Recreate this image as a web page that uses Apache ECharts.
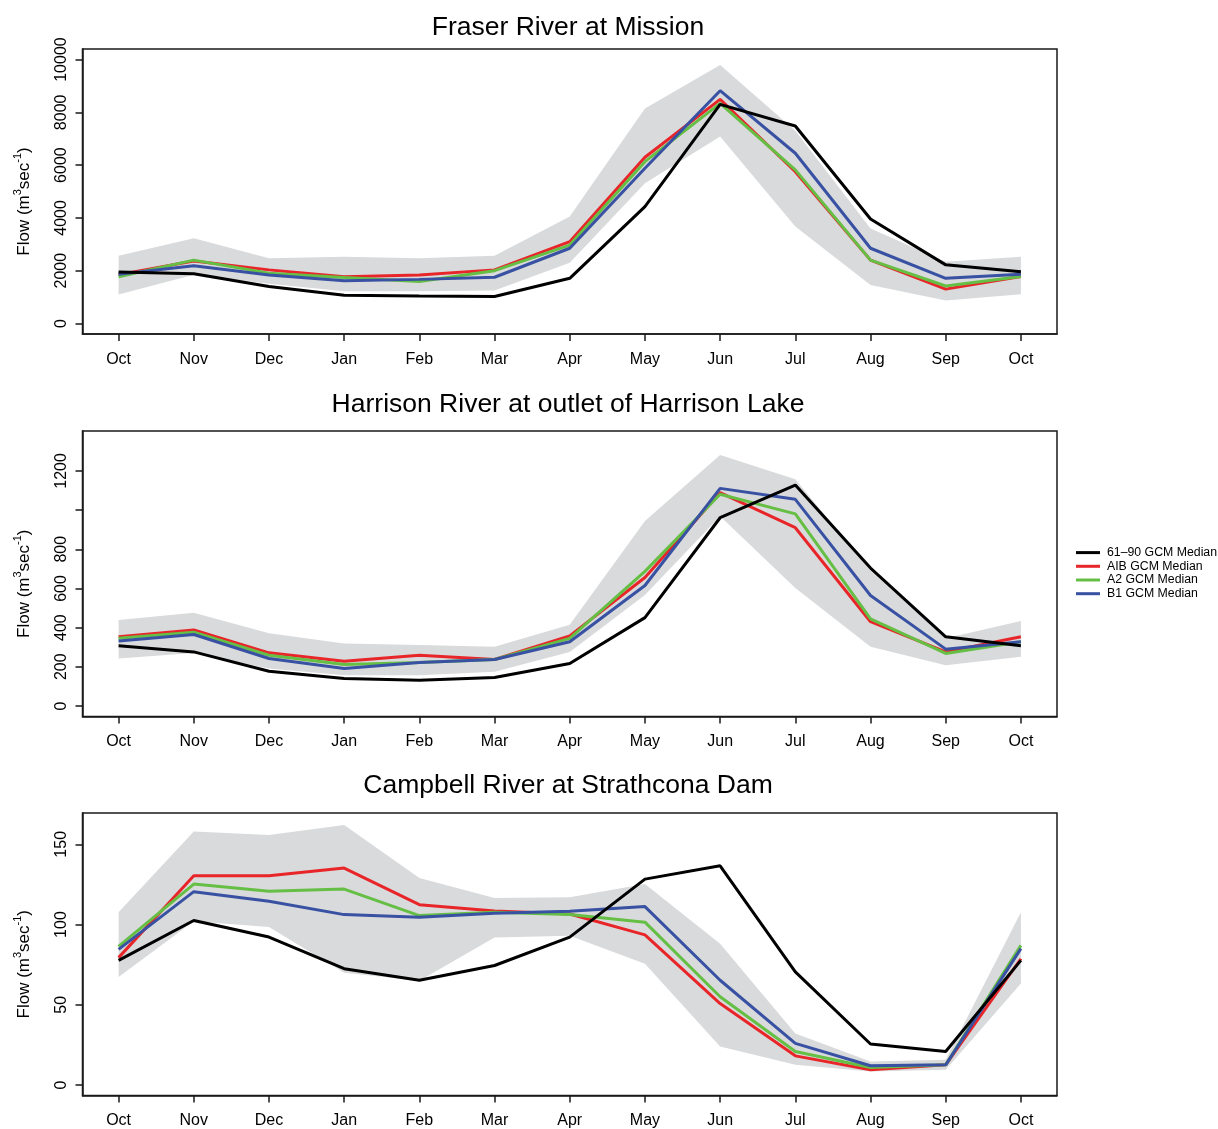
<!DOCTYPE html>
<html>
<head>
<meta charset="utf-8">
<script src="https://cdn.jsdelivr.net/npm/echarts@6/dist/echarts.min.js"></script>
<style>
html,body{margin:0;padding:0;background:#fff;}
#chart{width:1218px;height:1129px;}
</style>
</head>
<body>
<div id="chart"></div>
<script>
// ---- Data ----
const months = ['Oct','Nov','Dec','Jan','Feb','Mar','Apr','May','Jun','Jul','Aug','Sep','Oct'];
const seriesNames = ['61–90 GCM Median','AIB GCM Median','A2 GCM Median','B1 GCM Median'];

// Fraser River at Mission
const fraserBase  = [1950, 1880, 1400, 1070, 1040, 1020, 1710, 4430, 8300, 7480, 3960, 2220, 1960];
const fraserA1B   = [1850, 2370, 2030, 1770, 1840, 2030, 3100, 6300, 8490, 5750, 2400, 1300, 1780];
const fraserA2    = [1770, 2400, 1900, 1740, 1590, 2000, 2970, 6130, 8340, 5820, 2400, 1420, 1780];
const fraserB1    = [1860, 2190, 1840, 1620, 1670, 1750, 2850, 5880, 8820, 6450, 2850, 1710, 1860];
const fraserUpper = [2570, 3230, 2470, 2530, 2470, 2570, 4050, 8150, 9790, 7300, 3600, 2340, 2530];
const fraserLower = [1100, 1850, 1500, 1220, 1220, 1250, 2300, 5310, 7080, 3670, 1460,  870, 1110];

// Harrison River at outlet of Harrison Lake
const harrisonBase  = [307, 276, 177, 140, 131, 145, 217, 451, 961, 1128, 704, 353, 307];
const harrisonA1B   = [353, 388, 271, 228, 259, 237, 358, 656, 1089, 910, 430, 276, 353];
const harrisonA2    = [345, 376, 259, 211, 222, 237, 345, 687, 1081, 981, 444, 268, 328];
const harrisonB1    = [331, 365, 242, 191, 222, 237, 328, 615, 1111, 1055, 564, 290, 328];
const harrisonUpper = [439, 476, 371, 319, 311, 302, 415, 944, 1282, 1158, 690, 345, 434];
const harrisonLower = [242, 270, 191, 157, 157, 174, 276, 567,  969,  602, 302, 208, 251];

// Campbell River at Strathcona Dam
const campbellBase  = [77.7, 102.5, 92.2, 72.5, 65.3, 74.5, 92.2, 128.3, 136.6, 70.5, 25.6, 20.9, 77.7];
const campbellA1B   = [79.4, 130.4, 130.4, 135.2, 112.4, 108.5, 106.6, 93.6, 50.8, 18.2, 9.5, 12.6, 78.7];
const campbellA2    = [86.4, 125.2, 120.7, 122.1, 105.6, 107.7, 106.2, 101.5, 55.0, 20.9, 11.0, 12.6, 87.0];
const campbellB1    = [84.5, 120.5, 114.5, 106.2, 104.6, 107.0, 108.3, 111.2, 65.3, 26.0, 12.0, 12.6, 85.0];
const campbellUpper = [107.7, 157.9, 155.8, 162.0, 129.0, 116.5, 117.0, 125.2, 88.0, 32.2, 14.7, 15.7, 107.7];
const campbellLower = [67.4, 102.0, 98.4, 70.0, 65.0, 92.0, 93.0, 75.6, 24.0, 12.6, 8.5, 9.5, 63.2];

// Axis ticks
const fraserTicks = [0, 2000, 4000, 6000, 8000, 10000];
const fraserLabels = [0, 2000, 4000, 6000, 8000, 10000];
const harrisonTicks = [0, 200, 400, 600, 800, 1000, 1200];
const harrisonLabels = [0, 200, 400, 600, 800, 1200];
const campbellTicks = [0, 50, 100, 150];
const campbellLabels = [0, 50, 100, 150];
const monthTicks = [0,1,2,3,4,5,6,7,8,9,10,11,12];

const titles = ['Fraser River at Mission','Harrison River at outlet of Harrison Lake','Campbell River at Strathcona Dam'];

// ---- Build ----
const FONT = '"Liberation Sans", Arial, Helvetica, sans-serif';
const colors = ['#000000', '#e8262a', '#66bf45', '#3851a3'];
const panels = [
  {top: 49, height: 285, titleTop: 14, ymin: -400, ymax: 10400, ticks: fraserTicks, labels: fraserLabels,
   lines: [fraserBase, fraserA1B, fraserA2, fraserB1], upper: fraserUpper, lower: fraserLower},
  {top: 431, height: 285.5, titleTop: 391.5, ymin: -54, ymax: 1404, ticks: harrisonTicks, labels: harrisonLabels,
   lines: [harrisonBase, harrisonA1B, harrisonA2, harrisonB1], upper: harrisonUpper, lower: harrisonLower},
  {top: 813, height: 284, titleTop: 772.5, ymin: -6.5, ymax: 169.5, ticks: campbellTicks, labels: campbellLabels,
   lines: [campbellBase, campbellA1B, campbellA2, campbellB1], upper: campbellUpper, lower: campbellLower}
];

const gridLeft = 82.5, gridWidth = 974.5;
const grid = [], xAxis = [], yAxis = [], series = [], title = [];
const axisLineStyle = {color: '#1a1a1a', width: 1.5};

panels.forEach((p, k) => {
  grid.push({left: gridLeft, top: p.top, width: gridWidth, height: p.height,
    show: true, borderColor: '#1a1a1a', borderWidth: 1.5, backgroundColor: 'transparent'});
  title.push({text: titles[k], left: 568, top: p.titleTop, textAlign: 'center', padding: 0,
    textStyle: {fontFamily: FONT, fontSize: 26.5, fontWeight: 'normal', color: '#000'}});
  xAxis.push({type: 'value', gridIndex: k, min: -0.48, max: 12.48, position: 'bottom',
    axisLine: {show: true, onZero: false, lineStyle: axisLineStyle},
    axisTick: {show: true, length: 7, inside: false, customValues: monthTicks, lineStyle: axisLineStyle},
    axisLabel: {customValues: monthTicks, margin: 17.5, fontFamily: FONT, fontSize: 16, color: '#000',
      formatter: v => months[Math.round(v)]},
    splitLine: {show: false}});
  yAxis.push({type: 'value', gridIndex: k, min: p.ymin, max: p.ymax, position: 'left',
    axisLine: {show: true, onZero: false, lineStyle: axisLineStyle},
    axisTick: {show: true, length: 7, inside: false, customValues: p.ticks, lineStyle: axisLineStyle},
    axisLabel: {customValues: p.labels, rotate: 90, margin: 13, fontFamily: FONT, fontSize: 16, color: '#000',
      formatter: v => String(v)},
    splitLine: {show: false},
    name: '{n|Flow (m}{s|3}{n|sec}{s|-1}{n|)}',
    nameLocation: 'middle', nameGap: 50, nameRotate: 90,
    nameTextStyle: {padding: [0, 20, 0, 0], rich: {
      n: {fontFamily: FONT, fontSize: 17, color: '#000', lineHeight: 20, verticalAlign: 'bottom'},
      s: {fontFamily: FONT, fontSize: 11, color: '#000', lineHeight: 20, verticalAlign: 'top'}
    }}});
  // grey envelope
  series.push({type: 'custom', xAxisIndex: k, yAxisIndex: k, silent: true, z: 1,
    data: [[0, p.upper[0]]],
    renderItem: (params, api) => {
      const pts = [];
      p.upper.forEach((v, i) => pts.push(api.coord([i, v])));
      for (let i = p.lower.length - 1; i >= 0; i--) pts.push(api.coord([i, p.lower[i]]));
      return {type: 'polygon', shape: {points: pts}, style: {fill: '#d9dadb', stroke: null}};
    }});
  // lines: scenarios first, baseline last
  [1, 2, 3, 0].forEach(j => {
    series.push({type: 'line', name: seriesNames[j], xAxisIndex: k, yAxisIndex: k,
      data: p.lines[j].map((v, i) => [i, v]),
      symbol: 'none', showSymbol: false, z: 3 + (j === 0 ? 3 : j),
      lineStyle: {color: colors[j], width: 3}, itemStyle: {color: colors[j]}});
  });
});

const chart = echarts.init(document.getElementById('chart'), null, {renderer: 'canvas'});
chart.setOption({
  animation: false,
  backgroundColor: '#fff',
  title: title,
  grid: grid,
  xAxis: xAxis,
  yAxis: yAxis,
  legend: {
    data: seriesNames.map((n, j) => ({name: n, icon: 'rect', itemStyle: {color: colors[j]}})),
    orient: 'vertical', left: 1076, top: 546,
    itemWidth: 24, itemHeight: 3, itemGap: 0.5, padding: 0,
    textStyle: {fontFamily: FONT, fontSize: 12.3, lineHeight: 13.2, color: '#000', padding: [0, 0, 0, 2]}
  },
  series: series
});
</script>
</body>
</html>
